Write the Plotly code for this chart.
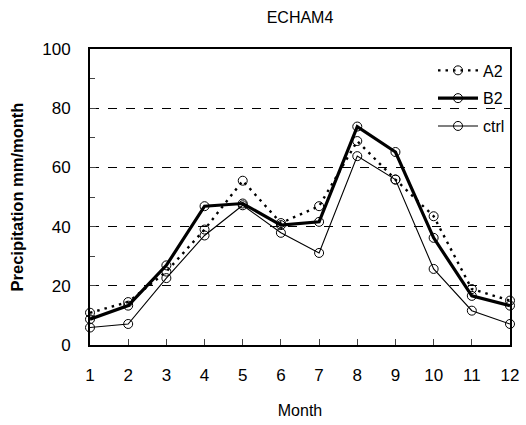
import plotly.graph_objects as go

months = list(range(1, 13))
a2 = [10.9, 14.5, 24.8, 39.0, 55.5, 41.2, 46.9, 68.9, 55.9, 43.5, 18.9, 15.0]
b2 = [8.7, 13.3, 26.9, 46.9, 47.8, 40.5, 41.6, 73.8, 65.2, 36.2, 16.6, 13.3]
ctrl = [5.9, 7.1, 22.6, 37.0, 47.2, 37.9, 31.1, 63.8, 55.9, 25.7, 11.6, 7.1]

FONT = "Liberation Sans, Arial, sans-serif"

fig = go.Figure()
marker = dict(symbol="circle-open", size=9, color="black", line=dict(width=1, color="black"))
fig.add_trace(go.Scatter(x=months, y=a2, name="A2", mode="lines+markers", legendgroup="a",
                         line=dict(color="black", width=2.4, dash="2.5px,5px"), marker=marker, cliponaxis=False))
fig.add_trace(go.Scatter(x=months, y=b2, name="B2", mode="lines+markers", legendgroup="b",
                         line=dict(color="black", width=3.2), marker=marker, cliponaxis=False))
fig.add_trace(go.Scatter(x=months, y=ctrl, name="ctrl", mode="lines+markers", legendgroup="c",
                         line=dict(color="black", width=1.1), marker=marker, cliponaxis=False))

fig.update_layout(
    width=526, height=425,
    margin=dict(l=90, r=16, t=49, b=80),
    paper_bgcolor="white", plot_bgcolor="white",
    font=dict(family=FONT, color="black", size=17),
    title=dict(text="ECHAM4", x=0.5, xref="paper", xanchor="center", y=1 - 17 / 425, yanchor="middle",
               font=dict(size=16, family=FONT)),
    showlegend=True,
    legend=dict(x=1.0, xanchor="right", y=0.985, yanchor="top", bgcolor="rgba(0,0,0,0)",
                font=dict(size=16), itemwidth=40, tracegroupgap=4),
)
fig.update_xaxes(range=[1, 12], tickvals=months, ticks="inside", ticklen=6, tickwidth=1,
                 showline=True, linewidth=2, linecolor="black", mirror=True, showgrid=False,
                 zeroline=False, ticklabelstandoff=14, automargin=False,
                 title=dict(text="Month", font=dict(size=16), standoff=20))
fig.update_yaxes(range=[0, 100], dtick=20, ticks="inside", ticklen=6, tickwidth=1,
                 showline=True, linewidth=2, linecolor="black", mirror=True,
                 showgrid=True, gridcolor="black", gridwidth=1, griddash="dash",
                 zeroline=False, ticklabelstandoff=14, automargin=False,
                 minor=dict(dtick=10, ticks="inside", ticklen=5, showgrid=False),
                 title=dict(text="<b>Precipitation mm/month</b>", font=dict(size=16.5), standoff=14))

fig.write_html("out.html")
